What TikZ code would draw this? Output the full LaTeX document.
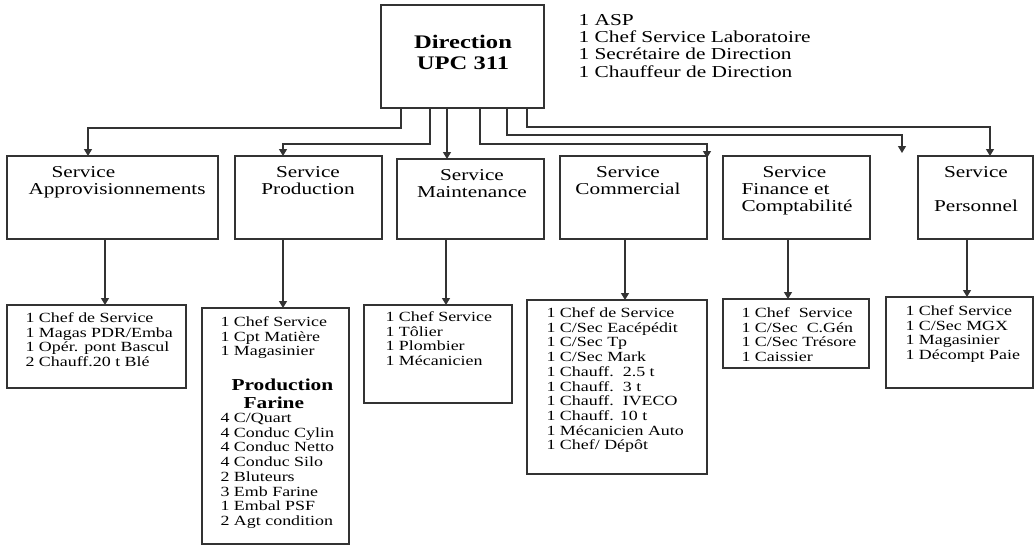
\documentclass[tikz,border=0pt]{standalone}
\usepackage{fontspec}
\setmainfont{Liberation Serif}[FakeStretch=1.28]
\usetikzlibrary{arrows.meta}
\newcommand{\fsz}[2]{\fontsize{#1}{#2}\selectfont}
\begin{document}
\begin{tikzpicture}[x=1pt,y=-1pt,
  box/.style={draw=black!80, line width=1.2pt, anchor=north west, inner sep=0pt, outer sep=0pt},
  conn/.style={draw=black!80, line width=1.2pt, -{Triangle[width=8pt,length=7pt]}},
  head/.style={font=\bfseries\fsz{19.2}{21}, align=center, anchor=base},
  side/.style={font=\fsz{16.7}{17.3}, align=left, anchor=base west},
  svc/.style={font=\fsz{16.6}{17}, anchor=base},
  staff/.style={font=\fsz{14}{14.7}, align=left, anchor=base west},
  sub/.style={font=\bfseries\fsz{16.7}{18}, align=left, anchor=base west},
]
\useasboundingbox (0,0) rectangle (1036,546);

% --- boxes -------------------------------------------------------------
\node[box, minimum width=163pt, minimum height=103pt] (dir) at (381,5) {};

\node[box, minimum width=211pt, minimum height=83pt] (sA)  at (7,156)   {};
\node[box, minimum width=147pt, minimum height=83pt] (sP)  at (235,156) {};
\node[box, minimum width=147pt, minimum height=80pt] (sM)  at (397,159) {};
\node[box, minimum width=147pt, minimum height=83pt] (sC)  at (560,156) {};
\node[box, minimum width=147pt, minimum height=83pt] (sF)  at (723,156) {};
\node[box, minimum width=115pt, minimum height=83pt] (sPe) at (918,156) {};

\node[box, minimum width=179pt, minimum height=83pt]  (lA)  at (7,305)   {};
\node[box, minimum width=147pt, minimum height=236pt] (lP)  at (202,308) {};
\node[box, minimum width=148pt, minimum height=98pt]  (lM)  at (364,305) {};
\node[box, minimum width=180pt, minimum height=174pt] (lC)  at (527,300) {};
\node[box, minimum width=146pt, minimum height=69pt]  (lF)  at (723,299) {};
\node[box, minimum width=147pt, minimum height=91pt]  (lPe) at (886,297) {};

% --- texts (each placed by the baseline of its last line) ---------------
\node[head] (tDir) at (463,69) {Direction\\UPC 311};
\node[side] (tSide) at (575,77) {1 ASP\\1 Chef Service Laboratoire\\1 Secrétaire de Direction\\1 Chauffeur de Direction};

\node[svc, align=left, anchor=base west] (tA) at (25,194) {\hspace*{23pt}Service\\Approvisionnements};
\node[svc, align=center] (tP) at (308,194) {Service\\Production};
\node[svc, align=center] (tM) at (472,197) {Service\\Maintenance};
\node[svc, align=center] (tC) at (628,194) {Service\\Commercial};
\node[svc, align=left, anchor=base west] (tF) at (738,211) {\hspace*{21pt}Service\\Finance et\\Comptabilité};
\node[svc, align=center] (tPe) at (976,211) {Service\\[17pt]Personnel};

\node[staff] (xA) at (22,366.6) {1 Chef de Service\\1 Magas PDR/Emba\\1 Opér. pont Bascul\\2 Chauff.20 t Blé};
\node[staff] (xP1) at (217,355.9) {1 Chef Service\\1 Cpt Matière\\1 Magasinier};
\node[sub] (xPh) at (228,408.5) {Production\\\hspace*{12pt}Farine};
\node[staff] (xP2) at (217,525.4) {4 C/Quart\\4 Conduc Cylin\\4 Conduc Netto\\4 Conduc Silo\\2 Bluteurs\\3 Emb Farine\\1 Embal PSF\\2 Agt condition};
\node[staff] (xM) at (382,365.6) {1 Chef Service\\1 Tôlier\\1 Plombier\\1 Mécanicien};
\node[staff] (xC) at (543,449.8) {1 Chef de Service\\1 C/Sec Eacépédit\\1 C/Sec Tp\\1 C/Sec Mark\\1 Chauff.\ \ 2.5 t\\1 Chauff.\ \ 3 t\\1 Chauff.\ \ IVECO\\1 Chauff. 10 t\\1 Mécanicien Auto\\1 Chef/ Dépôt};
\node[staff] (xF) at (738,361.6) {1 Chef\ \ Service\\1 C/Sec\ \ C.Gén\\1 C/Sec Trésore\\1 Caissier};
\node[staff] (xPe) at (902,359.6) {1 Chef Service\\1 C/Sec MGX\\1 Magasinier\\1 Décompt Paie};

% --- connectors from the direction -------------------------------------
\coordinate (gap) at (902,153);
\draw[conn] ([xshift=20pt]dir.south west) -- ++(0,20) -| ([xshift=81pt]sA.north west);
\draw[conn] ([xshift=49pt]dir.south west) -- ++(0,36) -| ([xshift=48pt]sP.north west);
\draw[conn] ([xshift=66pt]dir.south west) -- ([xshift=50pt]sM.north west);
\draw[conn] ([xshift=99pt]dir.south west) -- ++(0,36) -| ([yshift=-2pt]sC.north east);
\draw[conn] ([xshift=126pt]dir.south west) -- ++(0,27) -| (gap);
\draw[conn] ([xshift=146pt]dir.south west) -- ++(0,19) -| ([xshift=72pt]sPe.north west);

% --- connectors from the services to their staff ------------------------
\draw[conn] ([xshift=98pt]sA.south west) -- ([xshift=98pt]lA.north west);
\draw[conn] ([xshift=48pt]sP.south west) -- ([xshift=81pt]lP.north west);
\draw[conn] ([xshift=49pt]sM.south west) -- ([xshift=82pt]lM.north west);
\draw[conn] ([xshift=65pt]sC.south west) -- ([xshift=98pt]lC.north west);
\draw[conn] ([xshift=65pt]sF.south west) -- ([xshift=65pt]lF.north west);
\draw[conn] ([xshift=49pt]sPe.south west) -- ([xshift=81pt]lPe.north west);
\end{tikzpicture}
\end{document}
